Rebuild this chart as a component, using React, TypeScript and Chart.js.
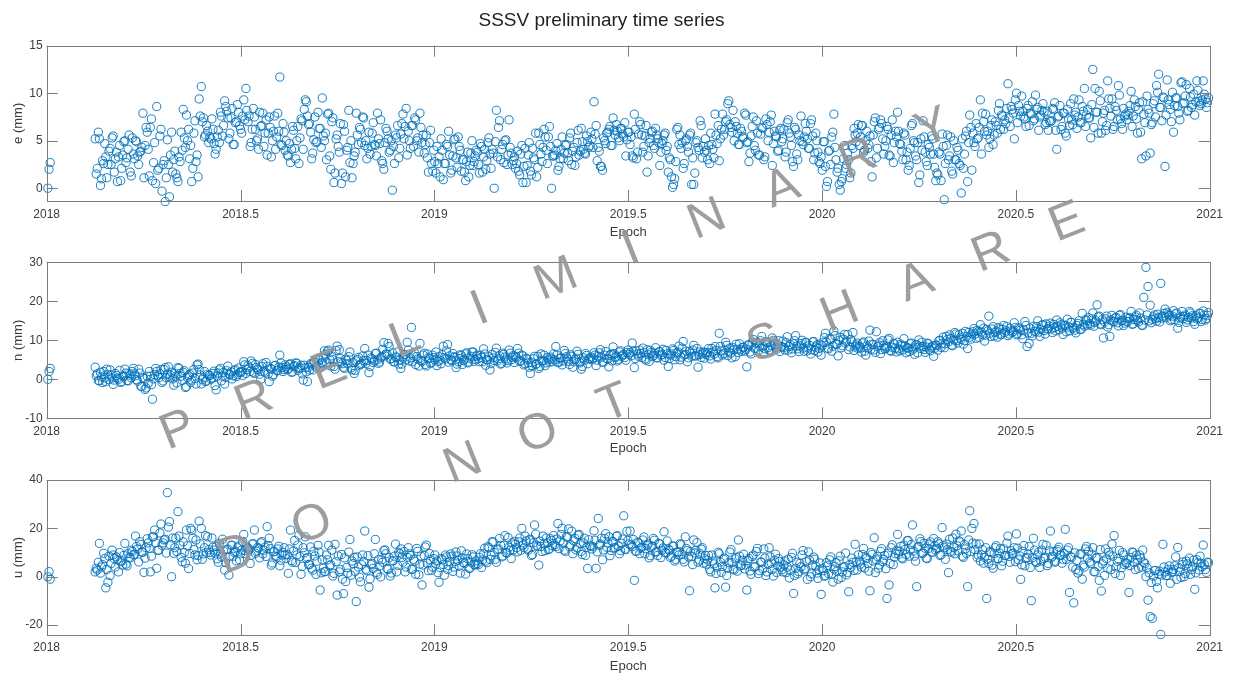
import React, { useEffect, useRef } from 'react';
import { Chart, registerables } from 'chart.js';

Chart.register(...registerables);

// ---------------- data ----------------
const TITLE = 'SSSV preliminary time series';
const X_LABEL = 'Epoch';
const X_TICKS = [2018, 2018.5, 2019, 2019.5, 2020, 2020.5, 2021];

// first isolated epochs at the very start of 2018
const EARLY_EPOCHS = [2018.003, 2018.006, 2018.009];
const EARLY_E = [0.0, 2.0, 2.7];
const EARLY_N = [0.0, 2.0, 2.8];
const EARLY_U = [0.0, 2.1, -1.0];

// daily record from 2018.125: even days and odd days
const START_EPOCH = 2018.125;
const DAYS_PER_YEAR = 365.25;

const E_EVEN_DAYS = [
  5.2, 2.1, 5.2, 1.0, 2.6, 3.3, 2.5, 4.2, 5.3, 1.7, 3.8, 3.3, 0.8, 3.5, 5.0, 3.2, 5.6, 1.3,
  3.6, 5.0, 3.4, 3.8, 4.3, 1.1, 6.4, 4.1, 6.4, 0.8, 4.8, 8.6, 2.1, 6.2, 2.5, -1.4, 5.1, -0.9,
  5.9, 3.0, 1.5, 0.7, 2.8, 4.0, 5.3, 7.7, 6.2, 4.5, 2.1, 7.1, 3.5, 9.4, 10.7, 7.4, 5.6, 6.0,
  5.4, 7.3, 4.7, 4.1, 6.1, 8.0, 5.5, 9.2, 8.1, 5.2, 7.4, 4.6, 6.9, 8.8, 6.6, 5.8, 9.3, 10.5,
  7.0, 4.4, 6.2, 7.5, 5.0, 4.1, 6.5, 7.9, 5.8, 3.5, 7.5, 3.3, 6.0, 4.1, 7.9, 11.7, 4.5, 5.9,
  5.0, 3.4, 2.7, 6.5, 4.2, 5.0, 2.6, 7.3, 4.1, 9.3, 7.6, 6.8, 3.1, 5.1, 4.8, 8.0, 6.3, 9.5,
  5.0, 3.0, 7.9, 2.0, 7.4, 1.6, 5.6, 3.8, 0.5, 6.7, 1.2, 4.3, 2.7, 1.1, 3.4, 7.9, 4.6, 6.2,
  7.5, 4.5, 3.1, 5.9, 4.4, 6.9, 4.5, 7.9, 4.7, 2.9, 2.0, 6.3, 5.2, 4.0, -0.2, 2.6, 5.3, 3.2,
  5.7, 7.8, 6.5, 3.5, 5.0, 6.6, 4.4, 7.2, 5.3, 7.9, 4.8, 3.7, 5.6, 1.7, 6.1, 1.8, 2.8, 4.4,
  3.3, 5.2, 0.9, 2.6, 4.4, 3.5, 1.9, 5.1, 3.2, 5.4, 4.0, 3.0, 1.7, 2.8, 1.2, 3.7, 2.4, 3.4,
  3.8, 1.6, 4.4, 3.3, 2.0, 4.8, 3.6, 4.1, 0.0, 8.2, 6.4, 3.0, 4.6, 5.0, 2.5, 7.2, 3.7, 2.9,
  2.1, 3.9, 1.4, 4.5, 2.3, 0.6, 3.5, 1.8, 4.2, 3.0, 1.2, 5.8, 3.6, 4.3, 5.4, 2.6, 6.5, 0.0,
  3.4, 4.0, 1.9, 3.1, 5.4, 3.7, 4.6, 2.9, 5.8, 3.9, 2.4, 4.8, 3.5, 6.3, 4.1, 3.6, 4.9, 4.5,
  5.2, 9.1, 6.6, 4.3, 2.3, 1.9, 5.0, 5.8, 6.2, 4.5, 7.4, 5.6, 6.0, 5.0, 6.3, 5.4, 3.4, 5.9,
  4.6, 3.4, 7.8, 3.1, 5.7, 6.7, 3.8, 5.5, 1.7, 4.8, 5.9, 4.5, 6.3, 5.2, 2.4, 4.7, 5.6, 4.0,
  1.7, 3.0, 0.1, 1.0, 6.2, 4.6, 4.2, 2.1, 5.0, 4.4, 5.6, 0.4, 0.4, 4.8, 4.3, 7.1, 3.2, 3.8,
  4.0, 4.5, 5.8, 4.1, 7.8, 4.7, 2.9, 6.2, 5.6, 7.0, 8.9, 6.7, 5.9, 5.0, 6.5, 4.6, 6.3, 5.3,
  7.9, 4.8, 2.8, 5.5, 7.5, 4.0, 5.8, 3.5, 6.4, 3.0, 7.3, 5.0, 7.0, 2.4, 6.0, 5.4, 4.0, 6.3,
  5.2, 3.3, 6.9, 5.8, 4.5, 2.3, 6.2, 3.0, 5.0, 4.9, 5.4, 6.0, 4.2, 6.8, 5.5, 3.7, 5.0, 2.8,
  3.3, 4.9, 2.3, 0.7, 4.0, 5.4, 7.8, 3.0, 2.1, -0.2, 1.0, 4.5, 2.5, 3.0, 1.6, 4.2, 5.6, 5.8,
  4.5, 6.6, 3.8, 5.0, 4.2, 5.5, 1.2, 7.0, 3.2, 6.2, 7.2, 5.2, 4.4, 6.5, 3.5, 5.6, 2.7, 6.0,
  8.0, 4.7, 3.9, 5.8, 3.0, 1.9, 4.2, 6.8, 4.8, 3.0, 0.6, 5.2, 7.1, 3.8, 2.4, 4.3, 5.5, 3.6,
  0.8, 1.4, 3.6, 5.7, -1.2, 4.5, 3.0, 5.4, 1.5, 3.0, 4.3, 2.6, -0.5, 2.1, 5.5, 0.7, 7.7, 1.9,
  4.8, 6.8, 5.3, 9.3, 7.9, 6.0, 5.6, 4.3, 6.6, 4.6, 7.0, 5.8, 8.9, 7.7, 6.2, 6.8, 11.0, 6.5,
  8.3, 5.2, 10.0, 8.7, 7.6, 8.1, 7.3, 8.4, 6.6, 7.8, 7.1, 9.8, 8.5, 7.5, 8.2, 8.0, 6.9, 6.1,
  7.0, 8.4, 9.0, 4.1, 7.6, 6.2, 7.9, 5.8, 8.3, 6.6, 7.2, 9.4, 8.0, 7.5, 6.9, 8.6, 10.5, 7.7,
  7.4, 5.3, 12.5, 10.5, 8.0, 10.2, 5.8, 7.9, 6.1, 11.3, 8.4, 9.4, 6.5, 8.2, 10.8, 7.3, 6.2, 7.6,
  7.2, 8.1, 10.2, 7.6, 8.6, 5.8, 9.0, 3.1, 7.8, 3.4, 8.3, 3.7, 6.9, 9.2, 10.8, 12.0, 8.5, 9.6,
  2.3, 11.4, 8.8, 7.0, 5.9, 9.5, 8.6, 7.2, 11.2, 9.0, 10.9, 8.2, 9.6, 8.8, 7.7, 11.3, 9.1, 8.9,
  11.3, 9.4, 9.0,
];

const E_ODD_DAYS = [
  1.5, 5.9, 0.3, 2.9, 4.7, 1.1, 3.9, 2.5, 5.5, 3.1, 0.7, 4.5, 2.1, 4.9, 2.7, 4.1, 1.7, 5.3,
  3.1, 4.9, 2.5, 3.9, 7.9, 4.5, 5.9, 1.3, 7.3, 2.7, 0.5, 1.9, 5.5, -0.3, 2.9, 1.1, 2.5, 3.5,
  1.7, 3.9, 1.1, 3.3, 5.9, 8.3, 4.3, 5.0, 3.1, 0.7, 5.8, 2.8, 1.2, 7.6, 7.0, 5.4, 6.6, 4.8,
  5.2, 6.2, 3.6, 5.4, 4.8, 7.6, 6.6, 8.6, 7.4, 5.8, 8.4, 4.6, 7.0, 8.0, 6.2, 7.6, 7.2, 8.2,
  7.6, 4.8, 8.4, 6.2, 5.2, 8.0, 6.6, 4.4, 7.2, 5.8, 6.4, 5.0, 7.6, 5.4, 6.0, 4.6, 6.8, 4.0,
  3.5, 4.7, 4.1, 6.1, 3.1, 6.5, 5.3, 7.1, 8.3, 9.1, 6.7, 5.9, 3.7, 7.5, 4.9, 6.3, 4.3, 5.5,
  5.8, 7.8, 3.4, 7.0, 0.6, 5.2, 4.4, 6.8, 1.6, 6.0, 4.0, 8.2, 5.0, 2.6, 3.8, 5.6, 6.4, 4.8,
  7.4, 5.0, 4.2, 3.6, 5.8, 4.6, 3.4, 5.2, 7.2, 2.6, 4.8, 6.0, 3.8, 5.0, 4.4, 5.6, 6.6, 4.2,
  6.8, 5.2, 8.4, 6.0, 4.2, 6.6, 7.4, 5.0, 3.8, 6.4, 5.6, 4.6, 3.2, 4.8, 2.6, 4.0, 1.6, 2.6,
  1.2, 4.0, 2.6, 4.6, 6.0, 1.6, 3.4, 5.2, 2.2, 4.4, 1.8, 3.0, 0.8, 3.8, 2.4, 5.0, 2.8, 4.0,
  2.5, 4.7, 1.7, 4.1, 2.9, 5.3, 2.1, 3.7, 4.9, 3.3, 7.1, 4.1, 2.7, 5.1, 3.5, 4.3, 2.5, 3.3,
  2.6, 1.8, 3.6, 0.6, 4.2, 2.4, 4.8, 1.4, 3.2, 5.8, 2.2, 4.6, 2.8, 6.2, 4.0, 5.4, 4.4, 3.4,
  3.5, 4.7, 2.3, 4.1, 3.1, 4.5, 3.7, 5.3, 2.5, 4.3, 3.3, 6.1, 3.9, 4.9, 3.7, 5.5, 4.3, 5.9,
  4.3, 5.7, 2.9, 3.9, 2.3, 5.3, 4.7, 5.9, 6.5, 4.5, 6.1, 6.7, 5.3, 6.3, 5.7, 6.9, 5.1, 5.9,
  5.4, 3.2, 6.2, 3.8, 7.0, 5.6, 4.4, 6.6, 3.4, 5.2, 6.0, 4.2, 5.6, 4.8, 3.8, 5.0, 5.8, 4.4,
  3.2, 1.2, 0.4, 2.8, 6.4, 5.6, 4.8, 2.6, 5.2, 3.8, 5.8, 3.2, 1.6, 5.0, 4.0, 6.6, 4.4, 5.2,
  3.0, 2.6, 4.6, 3.2, 5.6, 6.6, 5.2, 7.8, 6.2, 7.2, 9.2, 6.4, 8.2, 7.0, 5.8, 4.6, 6.0, 5.4,
  7.7, 4.9, 3.7, 6.5, 4.5, 7.1, 3.5, 5.7, 6.3, 3.3, 6.7, 5.9, 7.7, 4.7, 5.5, 3.9, 6.1, 4.9,
  6.2, 3.8, 7.2, 5.4, 2.8, 6.4, 3.6, 5.6, 7.6, 4.6, 6.8, 5.2, 4.2, 7.2, 3.0, 5.8, 3.8, 2.6,
  1.9, 4.9, 0.2, 3.9, 2.5, 5.9, 4.3, 1.7, 0.4, 0.7, 3.1, 2.1, 3.7, 1.1, 4.5, 6.3, 4.9, 6.7,
  5.4, 6.6, 4.0, 6.0, 4.6, 2.8, 5.6, 7.4, 4.2, 6.4, 6.8, 3.6, 5.0, 6.2, 3.4, 7.2, 4.8, 5.4,
  6.0, 4.6, 3.0, 5.6, 3.8, 2.4, 6.6, 5.0, 3.4, 4.8, 1.4, 4.0, 5.4, 2.8, 4.6, 3.6, 5.2, 2.2,
  1.6, 3.8, 0.8, 4.4, 2.6, 5.6, 3.4, 1.8, 5.0, 3.0, 4.0, 2.4, 5.2, 3.6, 6.0, 4.8, 6.4, 5.8,
  4.4, 5.2, 6.4, 3.6, 7.0, 7.8, 6.0, 5.2, 7.2, 5.6, 6.6, 8.2, 6.2, 7.6, 7.2, 8.4, 7.4, 8.6,
  7.9, 9.3, 6.9, 8.1, 9.7, 7.5, 6.5, 8.7, 7.9, 9.1, 7.3, 8.3, 6.1, 7.7, 8.9, 6.7, 8.1, 7.1,
  7.1, 8.3, 6.1, 7.5, 8.7, 6.5, 7.9, 5.5, 7.3, 8.9, 6.7, 7.7, 6.3, 9.3, 6.9, 8.1, 6.5, 8.3,
  7.4, 8.8, 6.4, 8.0, 5.8, 9.2, 7.0, 8.2, 6.6, 9.4, 7.6, 6.2, 8.6, 7.2, 9.8, 6.8, 8.4, 7.8,
  7.7, 8.7, 6.5, 9.3, 7.3, 8.3, 5.9, 9.1, 6.9, 9.7, 7.9, 6.7, 8.9, 7.5, 10.1, 8.5, 7.1, 9.5,
  7.7, 9.3, 8.3, 10.1, 8.7, 9.5, 7.9, 11.1, 8.9, 9.7, 8.1, 10.5, 8.5, 9.9, 9.1, 10.3, 8.7, 9.3,
  9.9, 8.5, 9.5,
];

const N_EVEN_DAYS = [
  3.1, 1.4, -0.4, 0.6, 2.0, -0.6, 1.2, 2.4, 0.3, -0.2, 1.0, 0.0, -0.8, 0.8, 2.6, -0.3, 1.5, 0.4,
  2.8, 0.9, -0.5, 1.6, -1.9, 0.2, -2.2, -1.0, 0.8, -5.1, 1.2, 2.0, 0.4, 2.5, -0.4, 3.0, 1.4, 0.6,
  1.8, -1.5, 0.7, 3.0, 1.5, -0.3, 2.2, -1.9, 0.9, -0.8, 1.6, 0.2, 3.7, 2.5, -1.2, 0.4, -0.6, 1.3,
  1.0, 0.3, 2.1, -2.7, 1.6, 2.8, 0.8, -1.2, 2.2, 1.4, 1.9, 0.9, 2.5, 1.2, 1.8, 2.0, 4.5, 1.5,
  3.5, 2.0, 4.1, 1.5, 3.0, 2.4, 0.0, 4.0, 1.8, 3.3, -0.6, 2.6, 1.2, 3.6, 2.2, 6.2, 3.0, 2.5,
  3.2, 2.6, 4.0, 1.9, 3.5, 4.1, 2.8, 3.6, -0.2, 3.0, -0.6, 2.4, 3.9, 4.4, 3.1, 5.4, 2.9, 4.2,
  7.3, 4.2, 7.5, 3.4, 5.0, 2.6, 8.5, 7.6, 4.4, 3.1, 5.2, 4.0, 7.0, 2.4, 1.5, 4.7, 5.6, 3.8,
  6.0, 7.9, 4.8, 1.7, 5.5, 4.3, 6.6, 5.0, 4.4, 5.8, 9.4, 6.5, 9.2, 5.2, 6.8, 4.5, 5.7, 3.9,
  2.8, 5.4, 6.4, 9.5, 4.7, 13.3, 6.0, 3.8, 5.2, 9.2, 4.6, 6.7, 3.4, 5.5, 4.1, 6.2, 5.0, 3.5,
  5.8, 4.0, 8.5, 5.2, 8.9, 6.0, 4.8, 5.6, 3.0, 4.5, 6.3, 3.8, 5.2, 6.8, 4.4, 5.9, 7.0, 5.1,
  6.2, 4.5, 5.6, 7.8, 3.6, 5.0, 2.4, 6.4, 4.8, 8.0, 5.3, 3.9, 6.7, 5.7, 4.2, 7.5, 5.0, 6.1,
  5.8, 7.9, 4.6, 6.2, 3.7, 5.4, 4.2, 1.5, 3.4, 5.9, 4.0, 2.8, 6.5, 4.7, 3.5, 5.6, 4.4, 5.2,
  6.5, 8.4, 4.3, 5.4, 3.7, 7.4, 5.8, 4.6, 6.3, 3.1, 5.0, 7.2, 4.5, 2.6, 5.5, 6.6, 4.0, 5.3,
  5.0, 6.8, 3.5, 5.9, 7.6, 4.4, 6.2, 5.3, 3.2, 6.5, 8.3, 5.6, 4.7, 7.0, 5.9, 6.4, 4.9, 7.5,
  6.8, 9.3, 3.0, 7.3, 5.9, 6.6, 8.0, 5.2, 7.6, 4.6, 6.9, 6.1, 8.1, 5.5, 7.1, 6.3, 4.9, 7.4,
  3.3, 6.2, 7.8, 5.0, 6.7, 8.5, 5.7, 9.7, 6.4, 4.5, 7.2, 5.9, 8.7, 6.0, 3.1, 7.0, 6.5, 5.4,
  6.4, 7.9, 5.2, 7.0, 8.4, 5.8, 11.8, 7.3, 6.6, 9.5, 6.1, 8.0, 5.5, 7.6, 9.0, 6.9, 7.7, 8.2,
  7.2, 3.2, 8.8, 6.5, 10.2, 7.9, 9.4, 8.5, 11.0, 6.8, 9.6, 8.1, 7.4, 10.6, 8.9, 7.7, 9.9, 8.3,
  9.8, 7.5, 10.9, 8.4, 6.8, 9.1, 11.2, 7.8, 8.6, 10.0, 7.2, 9.4, 8.0, 6.5, 9.6, 7.4, 8.8, 7.9,
  6.2, 9.5, 11.8, 8.0, 10.5, 7.2, 12.4, 9.0, 6.0, 10.8, 8.6, 11.5, 9.8, 7.6, 10.2, 12.0, 8.3, 9.3,
  8.5, 7.0, 9.6, 6.2, 8.0, 12.6, 9.0, 7.5, 12.2, 8.8, 6.6, 9.9, 7.8, 8.3, 10.5, 7.2, 9.2, 8.0,
  9.5, 7.3, 8.6, 10.4, 6.8, 8.0, 9.1, 7.5, 6.4, 8.9, 10.1, 7.9, 8.4, 6.9, 9.3, 7.7, 8.2, 5.9,
  8.8, 7.5, 10.0, 9.2, 8.1, 11.0, 9.6, 10.5, 8.6, 12.0, 9.9, 11.4, 10.2, 9.0, 12.3, 7.9, 10.8, 11.6,
  13.0, 10.5, 12.2, 14.0, 11.4, 9.8, 12.8, 16.2, 11.0, 13.5, 12.0, 10.8, 12.9, 11.6, 13.8, 12.4, 11.2, 13.1,
  12.0, 14.5, 11.4, 13.2, 12.6, 10.4, 14.8, 8.4, 9.2, 11.8, 13.6, 12.2, 15.0, 11.0, 13.9, 12.5, 14.2, 13.0,
  14.4, 12.0, 13.3, 15.2, 12.7, 14.0, 11.5, 13.8, 15.4, 12.4, 14.6, 13.1, 11.9, 14.3, 12.8, 16.9, 13.6, 15.0,
  15.8, 13.9, 17.0, 14.6, 19.1, 16.2, 14.0, 10.6, 15.5, 13.4, 11.0, 16.4, 14.8, 15.9, 13.7, 16.6, 15.1, 14.4,
  14.8, 15.6, 17.4, 14.2, 16.0, 15.1, 17.0, 13.9, 21.0, 28.7, 23.8, 19.0, 15.4, 16.5, 14.9, 15.8, 24.6, 16.2,
  18.0, 17.2, 16.4, 15.3, 17.6, 16.8, 13.1, 15.7, 17.4, 16.1, 14.6, 15.9, 17.0, 16.3, 14.1, 15.5, 16.9, 14.8,
  17.5, 15.2, 16.4,
];

const N_ODD_DAYS = [
  0.9, -0.3, 1.8, -0.8, 0.4, 2.6, -0.1, 1.1, -1.3, 1.5, 0.3, 2.3, -0.6, 0.8, 1.6, -0.4, 1.1, 2.0,
  1.4, -0.1, 2.6, -1.8, 0.4, -2.6, 0.8, 2.0, -1.4, 0.1, 2.8, 0.9, 1.4, -0.8, 2.5, 0.4, 3.2, 1.1,
  0.1, 1.5, -0.9, 2.8, 0.8, 1.8, -2.1, 0.5, 1.3, -0.2, 2.5, -1.2, 3.9, 1.1, -0.1, 2.0, -0.4, 1.0,
  0.0, 1.5, -1.6, 0.8, 2.4, -0.4, 1.8, 0.5, 3.4, 1.2, 0.1, 2.2, 0.7, 2.9, 1.7, 1.0, 3.7, 2.5,
  3.0, 4.7, 1.8, 3.8, 2.6, 1.3, 3.3, 2.1, 4.3, 1.4, 2.8, 0.8, 3.5, 2.3, 3.1, 4.2, 2.0, 3.7,
  2.6, 3.8, 1.8, 3.3, 4.2, 2.3, 3.0, 1.4, 3.6, 1.9, 3.1, 4.0, 2.4, 4.5, 3.5, 5.0, 4.2, 5.5,
  6.5, 7.2, 5.0, 6.0, 3.3, 7.4, 4.5, 5.3, 4.0, 2.8, 4.8, 5.8, 2.9, 4.3, 2.3, 5.1, 3.6, 4.1,
  4.8, 4.0, 6.2, 3.3, 5.2, 4.7, 6.7, 4.1, 5.5, 7.7, 6.0, 6.4, 8.4, 5.3, 4.5, 5.7, 7.0, 5.0,
  3.9, 6.3, 5.0, 7.5, 5.5, 4.5, 6.7, 5.8, 3.4, 4.8, 6.2, 3.8, 6.5, 5.3, 4.3, 5.6, 7.0, 4.6,
  4.9, 6.3, 5.6, 7.3, 4.4, 5.1, 6.6, 5.8, 3.9, 5.3, 6.1, 4.8, 6.5, 4.2, 5.4, 7.0, 4.6, 5.9,
  5.3, 6.2, 4.5, 6.5, 5.0, 5.8, 4.0, 5.5, 6.9, 4.7, 6.0, 4.1, 6.4, 5.2, 4.8, 6.7, 5.7, 4.3,
  5.5, 6.7, 4.7, 6.0, 4.0, 5.2, 3.1, 4.3, 5.3, 3.8, 5.9, 3.3, 4.8, 6.2, 4.2, 5.0, 5.7, 4.5,
  5.0, 6.2, 4.4, 5.5, 4.7, 6.6, 5.2, 3.8, 5.9, 4.5, 5.4, 6.4, 4.2, 3.3, 4.9, 6.1, 5.2, 5.7,
  5.4, 6.2, 4.9, 6.8, 5.7, 4.4, 7.1, 5.2, 6.1, 4.7, 6.6, 5.9, 5.1, 7.3, 6.2, 5.6, 6.9, 6.4,
  6.0, 7.2, 5.3, 6.5, 7.5, 5.6, 6.8, 4.9, 6.3, 7.4, 5.8, 6.7, 5.5, 7.0, 6.2, 7.7, 5.6, 6.5,
  5.3, 6.5, 7.4, 5.8, 7.0, 5.0, 8.0, 6.2, 7.2, 5.5, 6.7, 7.5, 6.0, 7.9, 6.3, 5.6, 7.0, 6.8,
  6.9, 6.0, 7.9, 6.5, 7.4, 5.5, 8.4, 6.2, 7.5, 8.7, 7.0, 6.7, 8.1, 5.8, 7.7, 9.1, 7.2, 8.2,
  7.7, 8.8, 7.0, 9.4, 8.0, 9.2, 7.3, 9.9, 8.5, 7.8, 9.5, 7.5, 8.7, 10.0, 8.2, 9.0, 7.1, 8.3,
  8.2, 9.4, 7.5, 8.8, 7.8, 9.9, 8.5, 7.1, 9.2, 8.0, 9.5, 7.3, 8.7, 7.6, 9.7, 8.3, 7.0, 9.0,
  8.6, 10.7, 9.5, 7.8, 10.2, 8.5, 11.2, 9.0, 10.0, 8.1, 10.3, 9.3, 11.5, 8.3, 9.6, 7.4, 8.8, 7.9,
  8.1, 9.3, 7.2, 8.6, 9.8, 7.7, 8.9, 6.9, 8.4, 9.4, 7.6, 8.7, 7.9, 10.1, 7.4, 8.2, 9.1, 7.0,
  7.8, 9.0, 7.5, 8.6, 8.1, 7.1, 9.3, 8.0, 8.8, 6.8, 8.5, 9.5, 7.6, 8.3, 9.1, 7.3, 8.6, 8.0,
  8.7, 9.9, 8.2, 10.8, 9.1, 10.2, 11.4, 8.8, 10.1, 11.6, 9.3, 10.6, 11.8, 9.9, 11.0, 12.0, 10.3, 12.2,
  11.6, 12.6, 10.7, 12.1, 13.1, 11.3, 12.4, 11.8, 12.9, 11.1, 12.3, 13.3, 11.4, 12.8, 12.0, 13.5, 11.6, 12.4,
  12.3, 13.3, 11.7, 12.9, 11.4, 12.6, 13.8, 11.9, 13.1, 11.1, 12.4, 13.5, 12.1, 12.8, 14.0, 11.6, 12.9, 13.6,
  12.9, 14.1, 12.4, 13.6, 14.5, 13.1, 13.9, 12.2, 13.4, 14.6, 13.3, 12.6, 13.8, 15.0, 12.8, 14.1, 15.3, 13.9,
  14.3, 15.5, 13.6, 15.0, 16.0, 14.2, 15.3, 14.7, 16.2, 14.0, 15.2, 14.8, 15.7, 14.5, 16.4, 15.0, 13.8, 15.9,
  14.8, 15.8, 14.1, 15.3, 16.4, 14.7, 15.7, 13.8, 15.2, 16.5, 15.0, 14.5, 16.0, 15.5, 16.7, 14.7, 15.7, 16.9,
  15.8, 16.7, 15.0, 16.2, 15.3, 17.0, 14.6, 16.0, 15.5, 16.5, 15.2, 17.4, 15.7, 14.8, 16.3, 15.8, 16.9, 15.3,
  16.5, 15.6, 17.1,
];

const U_EVEN_DAYS = [
  2.0, 2.8, 13.8, 4.0, 9.7, -4.6, -2.3, 0.5, 11.0, 7.5, 8.2, 2.0, 6.2, 4.8, 13.8, 4.5, 8.0, 11.0,
  9.0, 16.8, 11.5, 14.5, 10.2, 1.8, 12.0, 14.0, 2.0, 16.5, 19.3, 3.5, 11.0, 21.8, 14.0, 15.5, 34.8, 22.8,
  0.0, 9.7, 16.0, 26.9, 13.0, 6.2, 10.0, 19.3, 3.4, 20.0, 16.0, 9.0, 7.0, 23.0, 20.0, 9.5, 17.0, 16.5,
  10.0, 16.0, 11.0, 12.5, 6.0, 9.8, 15.5, 2.8, 11.2, 0.7, 13.0, 8.5, 10.5, 12.0, 7.0, 11.0, 17.5, 9.5,
  12.0, 5.5, 13.5, 19.3, 10.5, 11.8, 14.0, 9.5, 12.2, 20.7, 15.9, 4.8, 10.3, 8.5, 11.5, 4.5, 9.0, 12.0,
  7.5, 1.4, 19.3, 6.0, 15.0, 9.0, 17.2, 1.0, 12.0, 16.5, 8.0, 5.0, 3.5, 10.5, 1.0, 13.0, -5.5, 7.0,
  2.0, 9.0, 13.0, 5.0, 0.3, 13.4, -7.6, 2.0, 9.2, -7.0, -2.0, 1.5, 15.4, 6.5, 8.0, -10.3, 4.0, -2.1,
  9.0, 18.9, 2.5, -4.3, 5.0, 3.5, 15.4, 1.0, 4.5, 7.0, 10.8, 9.5, 3.0, 0.3, 6.5, 8.5, 2.0, 10.0,
  11.5, 6.0, 2.0, 8.0, 9.5, 3.0, 7.2, 1.0, 10.5, 5.2, -3.4, 8.8, 13.1, 2.5, 7.0, 4.0, 9.0, 6.5,
  -2.3, 7.5, 5.0, 9.0, 3.0, 6.2, 8.5, 4.0, 10.2, 6.8, 1.5, 7.8, 5.5, 9.4, 3.6, 6.0, 8.2, 4.8,
  5.5, 8.0, 3.8, 9.5, 6.5, 12.4, 7.2, 14.5, 10.0, 6.0, 11.5, 13.0, 8.6, 17.0, 9.8, 12.2, 7.5, 11.0,
  13.5, 10.3, 16.0, 20.0, 12.0, 14.8, 11.0, 15.5, 9.2, 21.4, 13.0, 4.8, 12.5, 16.8, 10.8, 14.0, 11.5, 15.0,
  17.0, 12.5, 22.0, 14.8, 20.0, 11.0, 16.5, 19.8, 13.2, 9.5, 15.8, 12.0, 17.5, 10.5, 14.0, 8.8, 3.4, 12.8,
  11.5, 19.0, 3.5, 24.1, 13.5, 7.0, 15.8, 12.2, 16.5, 10.8, 14.5, 12.0, 17.0, 9.5, 13.8, 25.2, 11.2, 15.0,
  18.9, 12.5, -1.5, 10.5, 14.0, 11.8, 15.2, 9.5, 13.0, 7.8, 12.0, 15.8, 10.2, 8.8, 13.5, 11.0, 18.6, 9.8,
  11.5, 8.0, 12.8, 6.5, 10.2, 9.0, 13.2, 7.2, 16.5, 10.8, -5.8, 8.5, 15.2, 11.0, 6.0, 9.5, 12.0, 7.5,
  5.2, 8.8, 2.0, 6.5, -4.6, 4.0, 9.5, 1.8, 7.2, -4.3, 3.5, 10.2, 5.8, 2.8, 8.0, 15.2, 4.5, 6.8,
  3.2, -5.5, 7.5, 1.0, 9.0, 4.2, 11.7, 2.5, 6.0, 11.5, 0.5, 5.2, 8.2, 3.0, 6.8, 1.8, 7.5, 4.0,
  2.0, 6.5, 4.0, -0.5, 8.0, -6.9, 3.5, 1.2, 5.5, 9.0, 2.8, 6.2, 10.3, 0.0, 4.8, 7.2, 1.5, 3.0,
  -7.3, 2.5, 0.5, 4.5, 7.0, 1.0, 3.2, 5.8, -1.0, 8.5, 2.0, 4.2, 0.8, -6.2, 3.8, 6.0, 13.4, 2.8,
  6.5, 4.0, 11.7, 8.0, 5.5, -5.8, 9.2, 16.1, 7.0, 3.5, 10.5, 6.2, 8.8, -9.0, -3.4, 12.0, 5.0, 9.5,
  17.5, 10.5, 7.8, 13.0, 9.2, 15.0, 11.0, 21.4, 8.5, -4.1, 12.5, 14.5, 9.8, 11.8, 7.5, 13.5, 10.2, 15.8,
  11.0, 14.5, 8.8, 20.3, 12.0, 13.5, 1.7, 10.5, 16.0, 9.5, 12.8, 14.8, 18.9, 8.0, 11.5, -4.1, 27.3, 20.0,
  22.0, 13.5, 9.0, 6.5, 11.2, 8.0, -9.0, 5.5, 10.0, 3.5, 12.0, 7.5, 9.8, 4.5, 11.5, 8.8, 16.8, 6.0,
  9.5, 12.0, 17.7, 7.0, -1.1, 10.5, 4.5, 8.0, 12.5, -9.9, 15.9, 6.2, 9.0, 3.8, 11.0, 7.5, 13.0, 5.5,
  18.9, 8.5, 6.0, 10.5, 12.2, 9.0, 7.2, 19.6, 11.0, -6.5, 8.0, -10.8, 3.0, 1.5, 9.5, -1.0, 4.0, 12.5,
  10.5, 5.5, 12.0, 2.0, 8.0, -1.5, -5.9, 6.5, 11.5, 3.5, 9.0, 13.5, 17.0, 4.0, 7.5, 0.5, 10.0, 5.0,
  5.5, -6.5, 8.0, 10.0, 3.0, 7.2, 9.0, 4.0, 6.0, 0.0, -9.7, -16.5, -17.2, 2.5, -2.0, 1.0, -23.9, 13.4,
  2.0, 0.5, 4.5, 1.8, 3.0, 8.2, 12.1, 2.2, 5.0, 0.0, 6.5, 3.5, 1.0, 4.2, -5.2, 7.0, 2.8, 5.5,
  13.1, 3.0, 6.0,
];

const U_ODD_DAYS = [
  3.5, 6.0, 1.5, 5.0, 7.5, 3.0, 8.5, 5.5, 9.0, 4.0, 7.0, 10.0, 6.5, 8.8, 5.2, 9.6, 7.8, 10.5,
  9.3, 12.5, 6.1, 13.3, 10.1, 7.7, 15.7, 11.7, 8.5, 16.5, 14.1, 10.9, 18.1, 13.0, 15.2, 9.8, 20.5, 13.3,
  16.0, 12.0, 10.4, 16.8, 8.0, 14.4, 5.6, 12.8, 9.6, 19.2, 11.2, 15.2, 8.8, 13.6, 7.2, 12.0, 10.1, 11.2,
  9.0, 12.2, 9.8, 7.4, 13.8, 8.2, 10.6, 5.8, 11.4, 8.5, 13.0, 10.1, 6.6, 12.7, 9.5, 14.6, 10.8, 11.7,
  11.3, 8.9, 13.7, 9.7, 12.1, 7.8, 14.5, 11.0, 8.4, 12.9, 11.6, 5.7, 10.5, 8.1, 12.6, 6.8, 10.0, 9.1,
  9.1, 11.5, 6.7, 10.7, 5.9, 13.1, 8.3, 4.3, 9.9, 7.5, 5.1, 12.3, 2.7, 8.6, 6.4, 10.2, 1.6, 3.5,
  2.2, 7.0, 4.6, 11.0, 1.4, 6.2, 8.6, 3.0, -1.0, 7.8, 3.8, 10.2, 0.6, 5.4, 2.2, 8.2, -0.2, 5.0,
  6.3, 3.1, 8.7, -0.9, 5.5, 9.5, 1.8, 7.1, -0.1, 6.0, 11.1, 3.4, 7.9, 1.5, 6.6, 13.5, 4.7, 9.5,
  8.0, 10.4, 4.0, 12.0, 8.8, 3.2, 6.4, 11.7, 0.8, 8.5, 4.8, 12.3, 5.6, 9.6, 2.7, 7.5, 5.3, 1.7,
  3.8, 7.0, 0.6, 8.2, 4.6, 9.4, 2.2, 6.2, 8.6, 4.3, 10.7, 5.9, 1.1, 7.5, 3.4, 9.1, 5.0, 6.6,
  5.0, 9.5, 7.0, 11.8, 5.8, 12.0, 8.8, 14.3, 7.2, 11.2, 15.8, 8.2, 13.0, 10.0, 16.2, 11.0, 14.0, 14.6,
  12.0, 14.4, 10.9, 13.1, 16.8, 11.5, 15.2, 8.8, 14.1, 17.6, 12.5, 14.7, 10.4, 13.6, 16.0, 11.2, 15.7, 12.8,
  13.2, 15.6, 11.6, 17.5, 14.0, 10.5, 16.4, 12.4, 18.8, 14.8, 11.1, 17.2, 13.7, 9.2, 15.9, 12.1, 15.3, 12.7,
  12.4, 15.1, 10.3, 13.0, 15.9, 11.1, 17.8, 14.0, 8.7, 14.6, 11.9, 16.7, 12.7, 10.8, 15.6, 11.4, 18.8, 13.5,
  13.2, 15.4, 10.6, 14.3, 9.5, 12.2, 16.4, 11.6, 13.5, 8.7, 12.7, 15.1, 10.3, 13.8, 7.9, 11.9, 10.0, 14.8,
  10.9, 8.5, 12.5, 7.2, 10.1, 13.6, 9.3, 6.1, 11.7, 8.2, 10.4, 5.0, 9.8, 14.1, 6.9, 11.4, 5.6, 8.8,
  6.9, 3.0, 9.0, 5.3, 1.3, 10.1, 6.1, 4.2, 7.7, 0.5, 5.8, 11.2, 3.2, 7.4, 2.3, 8.5, 4.8, 9.3,
  4.8, 6.7, 2.4, 8.3, 4.0, 10.4, 1.3, 6.1, 3.2, 7.7, 2.0, 12.0, 5.6, 0.3, 9.3, 4.5, 6.4, 2.9,
  4.9, 1.7, 7.3, 2.8, 9.7, 0.5, 6.0, 2.1, 4.1, 10.8, 3.3, -1.1, 6.9, 1.2, 8.1, 4.4, -0.7, 5.7,
  3.4, 0.2, 5.8, 1.3, 8.2, -2.2, 4.2, 2.3, 6.6, -0.3, 3.9, 9.8, 1.8, 5.0, 7.7, 2.6, 6.1, 9.0,
  5.2, 9.2, 3.6, 7.6, 2.3, 10.0, 6.5, 1.7, 8.4, 4.9, 11.6, 7.1, 3.3, 9.7, 5.5, 13.2, 8.1, 10.8,
  9.3, 12.5, 7.4, 11.2, 14.9, 8.5, 13.3, 10.6, 6.4, 12.2, 15.7, 9.6, 13.8, 7.7, 11.7, 14.4, 10.1, 12.8,
  11.7, 13.6, 9.1, 12.8, 7.2, 11.2, 15.5, 10.1, 12.0, 17.6, 10.7, 14.4, 8.5, 13.3, 9.6, 15.2, 10.4, 13.9,
  11.2, 8.0, 13.6, 9.1, 5.6, 12.0, 7.2, 10.4, 4.8, 9.6, 12.8, 7.5, 11.6, 6.4, 8.8, 13.9, 8.4, 10.7,
  9.7, 6.2, 11.8, 8.6, 4.9, 12.9, 7.5, 9.4, 3.8, 7.8, 11.0, 5.9, 10.2, 6.5, 13.4, 8.1, 4.6, 10.7,
  8.0, 10.4, 6.4, 11.2, 8.8, 5.6, 9.6, 7.2, 12.0, 8.3, 4.0, 9.9, 6.7, 2.4, 9.3, 4.8, 11.5, 7.7,
  6.1, 9.3, 2.1, 7.7, 4.2, 11.2, 5.3, 0.5, 7.4, 10.1, 2.9, 8.5, 1.3, 6.4, 10.9, 3.7, 9.0, 5.8,
  7.0, 4.6, 10.2, 5.9, 8.9, 3.5, 7.8, 11.0, 5.4, 3.8, 1.6, -2.4, 0.2, 2.6, -4.6, 2.3, 0.7, 4.0,
  0.5, 2.9, -2.7, 2.1, 4.5, -1.1, 3.7, -0.3, 6.1, 1.3, 5.3, 7.7, 2.9, 6.9, 1.6, 5.8, 8.5, 4.2,
  5.0, 1.8, 5.8,
];

const E_TICKS = [0, 5, 10, 15];
const N_TICKS = [-10, 0, 10, 20, 30];
const U_TICKS = [-20, 0, 20, 40];

const WATERMARK_1 = 'PRELIMINARY';
const WATERMARK_2 = 'DO NOT SHARE';

// ---------------- styles ----------------
const FONT = '"Liberation Sans", Arial, Helvetica, sans-serif';
const MARKER = 'rgba(0,114,189,0.9)';
const AXIS = '#7c7c7c';
const LABEL = '#3c3c3c';

type Panel = {
  label: string;
  even: number[];
  odd: number[];
  early: number[];
  ticks: number[];
  min: number;
  max: number;
  top: number;
  height: number;
  padTop: number;
  xAxisH: number;
  tickPad: number;
  titlePad: number;
};

const PANELS: Panel[] = [
  { label: 'e (mm)', even: E_EVEN_DAYS, odd: E_ODD_DAYS, early: EARLY_E, ticks: E_TICKS, min: -1.34, max: 15,
    top: 0, height: 245, padTop: 45.7, xAxisH: 44, tickPad: 6.8, titlePad: 5.2 },
  { label: 'n (mm)', even: N_EVEN_DAYS, odd: N_ODD_DAYS, early: EARLY_N, ticks: N_TICKS, min: -10, max: 30,
    top: 245, height: 215, padTop: 17.3, xAxisH: 41.7, tickPad: 6.2, titlePad: 3.5 },
  { label: 'u (mm)', even: U_EVEN_DAYS, odd: U_ODD_DAYS, early: EARLY_U, ticks: U_TICKS, min: -24.1, max: 40,
    top: 460, height: 215, padTop: 20, xAxisH: 40, tickPad: 5.8, titlePad: 1.0 },
];

const PLOT_LEFT = 46.7;
const PLOT_RIGHT_PAD = 1239 - 1209.7;
const TICK_LEN = 11;

const boxPlugin = {
  id: 'matlabBox',
  afterDatasetsDraw(chart: any) {
    const { ctx, chartArea: a, scales } = chart;
    const xs = scales.x;
    const ys = scales.y;
    ctx.save();
    ctx.strokeStyle = AXIS;
    ctx.lineWidth = 1;
    ctx.beginPath();
    for (const t of xs.ticks) {
      const px = Math.round(xs.getPixelForValue(t.value)) + 0.5;
      ctx.moveTo(px, a.bottom);
      ctx.lineTo(px, a.bottom - TICK_LEN);
      ctx.moveTo(px, a.top);
      ctx.lineTo(px, a.top + TICK_LEN);
    }
    for (const t of ys.ticks) {
      const py = Math.round(ys.getPixelForValue(t.value)) + 0.5;
      ctx.moveTo(a.left, py);
      ctx.lineTo(a.left + TICK_LEN, py);
      ctx.moveTo(a.right, py);
      ctx.lineTo(a.right - TICK_LEN, py);
    }
    ctx.stroke();
    ctx.strokeRect(Math.round(a.left) + 0.5, Math.round(a.top) + 0.5,
      Math.round(a.right - a.left), Math.round(a.bottom - a.top));
    ctx.restore();
  },
};

function PanelChart({ panel }: { panel: Panel }) {
  const ref = useRef<HTMLCanvasElement | null>(null);
  useEffect(() => {
    if (!ref.current) return;
    const dayToEpoch = (d: number) => START_EPOCH + d / DAYS_PER_YEAR;
    const pts = [
      ...EARLY_EPOCHS.map((x, i) => ({ x, y: panel.early[i] })),
      ...panel.even.map((y, i) => ({ x: dayToEpoch(2 * i), y })),
      ...panel.odd.map((y, i) => ({ x: dayToEpoch(2 * i + 1), y })),
    ];
    const chart = new Chart(ref.current, {
      type: 'scatter',
      data: {
        datasets: [{
          data: pts,
          pointStyle: 'circle',
          pointRadius: 4.1,
          pointHoverRadius: 4.1,
          pointBorderWidth: 1,
          pointBorderColor: MARKER,
          pointBackgroundColor: 'rgba(0,0,0,0)',
          showLine: false,
          clip: false as any,
        }],
      },
      options: {
        responsive: false,
        animation: false,
        events: [],
        layout: { padding: { top: panel.padTop, right: PLOT_RIGHT_PAD, left: 0, bottom: 0 } },
        plugins: { legend: { display: false }, tooltip: { enabled: false }, title: { display: false } },
        scales: {
          x: {
            type: 'linear',
            min: 2018,
            max: 2021,
            afterBuildTicks: (s: any) => { s.ticks = X_TICKS.map((v) => ({ value: v })); },
            afterFit: (s: any) => { s.height = panel.xAxisH; },
            grid: { display: false, drawTicks: false },
            border: { display: false },
            ticks: {
              padding: panel.tickPad,
              color: LABEL,
              font: { family: FONT, size: 12 },
              maxRotation: 0,
              autoSkip: false,
              callback: (v: any) => String(Number(v)),
            },
            title: {
              display: true,
              text: X_LABEL,
              color: LABEL,
              font: { family: FONT, size: 13 },
              padding: { top: 0, bottom: panel.titlePad },
            },
          },
          y: {
            type: 'linear',
            min: panel.min,
            max: panel.max,
            afterBuildTicks: (s: any) => { s.ticks = panel.ticks.map((v) => ({ value: v })); },
            afterFit: (s: any) => { s.width = PLOT_LEFT; },
            grid: { display: false, drawTicks: false },
            border: { display: false },
            ticks: {
              padding: 4,
              color: LABEL,
              font: { family: FONT, size: 12 },
              autoSkip: false,
              callback: (v: any) => String(Number(v)),
            },
            title: {
              display: true,
              text: panel.label,
              color: LABEL,
              font: { family: FONT, size: 13 },
              padding: { top: 10.2, bottom: 0 },
            },
          },
        },
      },
      plugins: [boxPlugin],
    });
    return () => chart.destroy();
  }, [panel]);
  return (
    <canvas
      ref={ref}
      width={1239}
      height={panel.height}
      style={{ position: 'absolute', left: 0, top: panel.top, width: 1239, height: panel.height, display: 'block' }}
    />
  );
}

// watermark letter layout (along a line, rotated)
const WM_ANGLE = -21.8;
const WM_STEP = { dx: 75.5, dy: -30.2 };
const WM_LINES = [
  { text: WATERMARK_1, x0: 177, y0: 428 },
  { text: WATERMARK_2, x0: 235, y0: 552 },
];

export default function App() {
  return (
    <div style={{ position: 'absolute', left: 0, top: 0, width: 1239, height: 675, background: '#fff', overflow: 'hidden', fontFamily: FONT }}>
      {PANELS.map((p) => <PanelChart key={p.label} panel={p} />)}
      <div style={{ position: 'absolute', left: 0, top: 8, width: 1203, textAlign: 'center', fontSize: 19, lineHeight: '24px', color: '#1f1f1f', fontFamily: FONT }}>
        {TITLE}
      </div>
      {WM_LINES.map((line) =>
        line.text.split('').map((ch, i) => (
          ch === ' ' ? null : (
            <span
              key={line.text + i}
              style={{
                position: 'absolute',
                left: line.x0 + i * WM_STEP.dx,
                top: line.y0 + i * WM_STEP.dy,
                transform: `translate(-50%, -50%) rotate(${WM_ANGLE}deg)`,
                fontFamily: FONT,
                fontSize: 50,
                lineHeight: '50px',
                color: 'rgba(150,150,150,0.92)',
                pointerEvents: 'none',
                whiteSpace: 'pre',
              }}
            >
              {ch}
            </span>
          )
        ))
      )}
    </div>
  );
}
